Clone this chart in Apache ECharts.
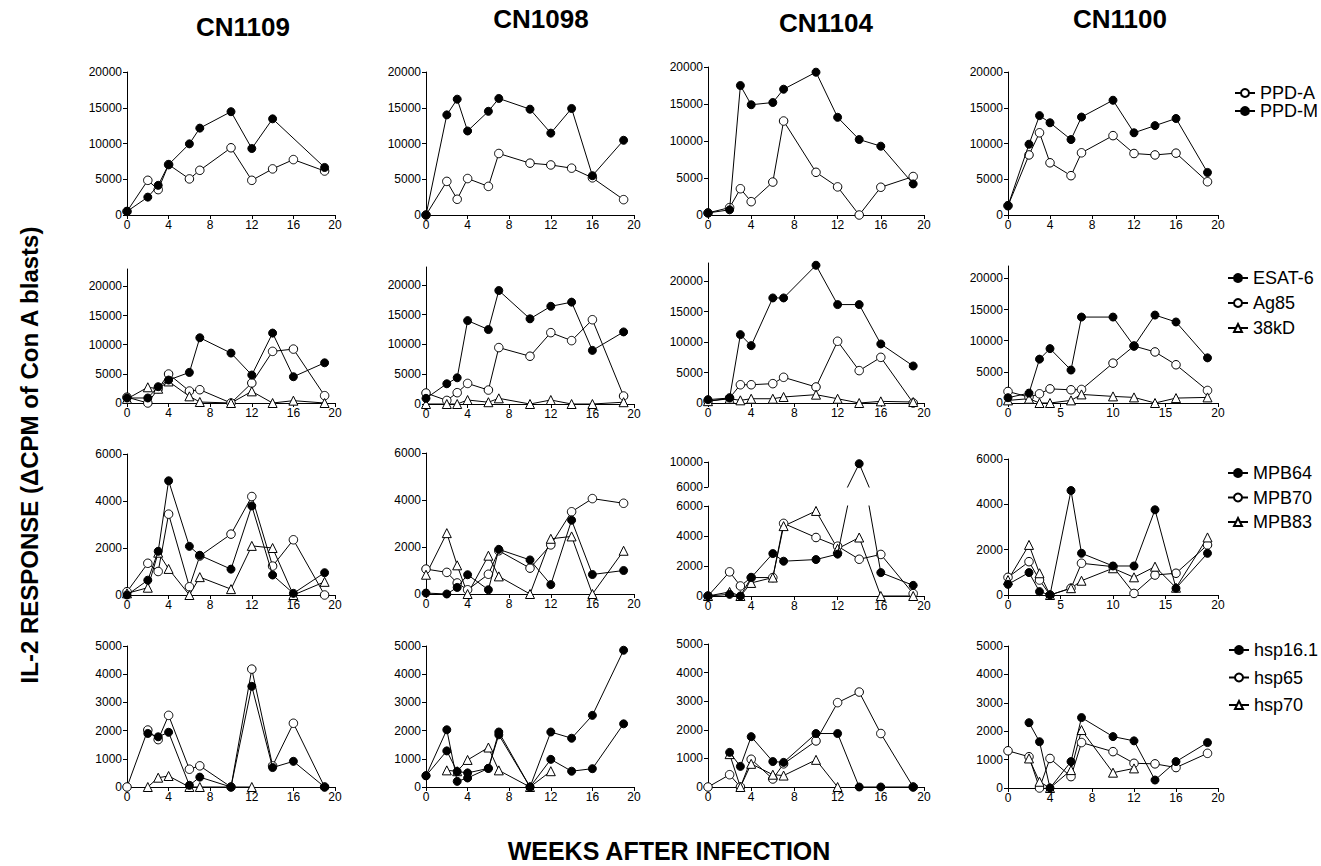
<!DOCTYPE html>
<html>
<head>
<meta charset="utf-8">
<script src="https://cdn.jsdelivr.net/npm/echarts@6/dist/echarts.min.js"></script>
<style>
html,body{margin:0;padding:0;background:#fff;}
#c{width:1321px;height:866px;}
</style>
</head>
<body>
<div id="c"></div>
<script>
// ---------- DATA ----------
const WEEKS = [0, 2, 3, 4, 6, 7, 10, 12, 14, 16, 19];
const PATIENTS = ['CN1109', 'CN1098', 'CN1104', 'CN1100'];
const ANTIGENS = [
  ['PPD-A', 'PPD-M'],
  ['ESAT-6', 'Ag85', '38kD'],
  ['MPB64', 'MPB70', 'MPB83'],
  ['hsp16.1', 'hsp65', 'hsp70']
];
const X_TICKS_4 = [0, 4, 8, 12, 16, 20];
const X_TICKS_5 = [0, 5, 10, 15, 20];
const Y_TICKS_ROW1 = [0, 5000, 10000, 15000, 20000];
const Y_TICKS_ROW2 = [0, 5000, 10000, 15000, 20000];
const Y_TICKS_ROW3 = [0, 2000, 4000, 6000];
const Y_TICKS_ROW3_UPPER = [6000, 10000];
const Y_TICKS_ROW4 = [0, 1000, 2000, 3000, 4000, 5000];

// PPD
const ppdA_1109 = [500, 4850, 3550, 7050, 5050, 6250, 9400, 4850, 6450, 7750, 6150];
const ppdM_1109 = [500, 2500, 4150, 7050, 9950, 12150, 14450, 9300, 13450, null, 6650];
const ppdA_1098 = [0, 4700, 2200, 5100, 4000, 8600, 7250, 7000, 6550, 5200, 2150];
const ppdM_1098 = [0, 14000, 16200, 11750, 14500, 16300, 14800, 11450, 14900, 5500, 10450];
const ppdA_1104 = [280, 1000, 3550, 1800, 4450, 12700, 5770, 3800, 0, 3750, 5200];
const ppdM_1104 = [280, 700, 17500, 14900, 15200, 17000, 19300, 13200, 10200, 9300, 4200];
const ppdA_1100 = [1300, 8400, 11500, 7300, 5500, 8700, 11100, 8600, 8400, 8650, 4650];
const ppdM_1100 = [1300, 9900, 13900, 12900, 10550, 13700, 16050, 11500, 12500, 13500, 5950];
// ESAT-6 / Ag85 / 38kD
const esat_1109 = [860, 860, 2800, 3940, 5250, 11200, 8570, 4800, 12000, 4510, 6900];
const ag85_1109 = [1000, 0, 2450, 4970, 2050, 2280, 0, 3430, 8860, 9250, 1260];
const kd38_1109 = [700, 2700, 2450, 3700, 1140, 170, 0, 2000, 0, 400, 0];
const esat_1098 = [950, 3400, 4400, 14000, 12500, 19050, 14300, 16400, 17100, 9000, 12100];
const ag85_1098 = [1840, 600, 1900, 3450, 2340, 9470, 8020, 11980, 10640, 14150, 1340];
const kd38_1098 = [0, 0, 0, 670, 300, 950, 0, 670, 0, 0, 300];
const esat_1104 = [550, 820, 11230, 9420, 17260, 17260, 22630, 16170, 16170, 9700, 6080];
const ag85_1104 = [270, 820, 3000, 3000, 3180, 4220, 2630, 10140, 5320, 7500, 0];
const kd38_1104 = [300, 700, 440, 700, 700, 990, 1370, 700, 0, 270, 160];
const esat_1100 = [850, 1590, 7040, 8730, 5290, 13800, 13800, 9150, 14120, 13010, 7250];
const ag85_1100 = [1850, 950, 1480, 2270, 2120, 2170, 6400, 9150, 8200, 6140, 2010];
const kd38_1100 = [420, 690, 0, 0, 420, 1380, 1060, 900, 0, 790, 900];
// MPB64 / MPB70 / MPB83
const mpb64_1109 = [0, 630, 1860, 4860, 2070, 1690, 1100, 3790, 850, 70, 950];
const mpb70_1109 = [140, 1350, 1000, 3440, 350, 1660, 2590, 4190, 1230, 2350, 0];
const mpb83_1109 = [70, 310, 1800, 1110, 0, 760, 250, 2090, 2000, 0, 560];
const mpb64_1098 = [40, 0, 280, 820, 180, 1900, 1450, 400, 3140, 830, 1000];
const mpb70_1098 = [1060, 920, 470, 180, 840, 1840, 1100, 2090, 3500, 4060, 3860];
const mpb83_1098 = [820, 2590, 1220, 0, 1630, 750, 0, 2350, 2450, 0, 1840];
const mpb64_1104 = [0, 110, 0, 1230, 2830, 2320, 2430, 2790, 9730, 1560, 710];
const mpb70_1104 = [0, 1610, 670, 1230, 1230, 4840, 3900, 3320, 2450, 2770, 160];
const mpb83_1104 = [0, 270, 0, 870, 1230, 4660, 5670, 3150, 3900, 0, 0];
const mpb64_1100 = [470, 990, 150, 0, 4610, 1840, 1280, 1280, 3760, 300, 1840];
const mpb70_1100 = [780, 1470, 660, 0, 300, 1400, 1250, 70, 880, 960, 2210];
const mpb83_1100 = [660, 2210, 960, 0, 300, 630, 1180, 780, 1250, 320, 2540];
// hsp16.1 / hsp65 / hsp70
const hsp16_1109 = [null, 1900, 1780, 1940, 60, 350, 0, 3570, 690, 910, 0];
const hsp65_1109 = [0, 2020, 1680, 2540, 630, 750, 0, 4180, 750, 2260, 0];
const hsp70_1109 = [null, 0, 330, 390, 0, 0, null, 0, null, null, null];
const hsp16_1098 = [400, 2030, 200, 320, 660, 1950, 0, 1950, 1730, 2540, 4850];
const hsp65_1098 = [400, 1280, 550, 500, 660, 1850, 0, 980, 560, 650, 2240];
const hsp70_1098 = [null, 590, 560, 960, 1400, 590, 0, 560, null, null, null];
const hsp16_1104 = [null, 1210, 720, 1760, 890, 860, 1870, 1870, 0, 0, 0];
const hsp65_1104 = [0, 430, 0, 970, 280, 810, 1610, 2950, 3320, 1870, 0];
const hsp70_1104 = [null, 1150, 0, 810, 430, 400, 950, 0, null, null, null];
const hsp16_1100 = [null, 2300, 1630, 0, 930, 2480, 1810, 1660, 280, 930, 1600];
const hsp65_1100 = [1310, 1100, 0, 1040, 400, 1600, 1280, 870, 850, 720, 1220];
const hsp70_1100 = [null, 1040, 220, 0, 630, 2040, 540, 690, null, null, null];

const VALUES = [
  [[ppdA_1109, ppdM_1109], [ppdA_1098, ppdM_1098], [ppdA_1104, ppdM_1104], [ppdA_1100, ppdM_1100]],
  [[esat_1109, ag85_1109, kd38_1109], [esat_1098, ag85_1098, kd38_1098], [esat_1104, ag85_1104, kd38_1104], [esat_1100, ag85_1100, kd38_1100]],
  [[mpb64_1109, mpb70_1109, mpb83_1109], [mpb64_1098, mpb70_1098, mpb83_1098], [mpb64_1104, mpb70_1104, mpb83_1104], [mpb64_1100, mpb70_1100, mpb83_1100]],
  [[hsp16_1109, hsp65_1109, hsp70_1109], [hsp16_1098, hsp65_1098, hsp70_1098], [hsp16_1104, hsp65_1104, hsp70_1104], [hsp16_1100, hsp65_1100, hsp70_1100]]
];

// ---------- LAYOUT / STYLE ----------
const FONT = "'Liberation Sans', Arial, Helvetica, sans-serif";
const COL_X0 = [127, 426, 708, 1008];
const COL_X1 = [335, 634, 924, 1218];
const ROW_TOP = [[72, 72, 67, 72], [269, 267, 263, 266], [454, 453, 506, 459], [646, 646, 644, 646]];
const ROW_BOTTOM = [[215, 215, 215, 215], [403, 404, 403, 403], [595, 594, 596, 595], [787, 787, 787, 788]];
const UPPER_BREAK = { top: 462, bottom: 487 }; // CN1104 MPB panel, upper segment
const Y_MAX = [[20000, 20000, 20000, 20000], [23000, 23000, 23000, 22000], [6000, 6000, 6000, 6000], [5000, 5000, 5000, 5000]];
const Y_TICKS = [Y_TICKS_ROW1, Y_TICKS_ROW2, Y_TICKS_ROW3, Y_TICKS_ROW4];
const MARK = {
  'PPD-A': 'open', 'PPD-M': 'filled', 'ESAT-6': 'filled', 'Ag85': 'open', '38kD': 'tri',
  'MPB64': 'filled', 'MPB70': 'open', 'MPB83': 'tri', 'hsp16.1': 'filled', 'hsp65': 'open', 'hsp70': 'tri'
};

function pairs(vals) {
  return WEEKS.map((w, i) => [w, vals[i]]).filter(p => p[1] !== null);
}
function markStyle(kind) {
  if (kind === 'filled') return { symbol: 'circle', symbolSize: 8, itemStyle: { color: '#000', borderColor: '#000', borderWidth: 1 } };
  if (kind === 'open') return { symbol: 'circle', symbolSize: 8.5, itemStyle: { color: '#fff', borderColor: '#000', borderWidth: 1 } };
  return { symbol: 'triangle', symbolSize: 9, itemStyle: { color: '#fff', borderColor: '#000', borderWidth: 1 } };
}
const plain = v => String(v);

const grids = [], xAxes = [], yAxes = [], series = [];

function addGrid(left, right, top, bottom, xTicks, xShow, yMin, yMax, yTicks) {
  const gi = grids.length;
  grids.push({ left: left, top: top, width: right - left, height: bottom - top, containLabel: false });
  xAxes.push({
    type: 'value', gridIndex: gi, min: 0, max: 20, interval: xTicks[1] - xTicks[0], show: xShow,
    splitLine: { show: false },
    axisLine: { show: true, lineStyle: { color: '#000', width: 1 } },
    axisLabel: { color: '#000', fontFamily: FONT, fontSize: 12, margin: 4, customValues: xTicks, formatter: plain },
    axisTick: { show: true, length: 4, lineStyle: { color: '#000' }, customValues: xTicks }
  });
  yAxes.push({
    type: 'value', gridIndex: gi, min: yMin, max: yMax, interval: yTicks[1] - yTicks[0],
    splitLine: { show: false },
    axisLine: { show: true, lineStyle: { color: '#000', width: 1 } },
    axisLabel: { color: '#000', fontFamily: FONT, fontSize: 12, margin: 5, customValues: yTicks, formatter: plain },
    axisTick: { show: true, length: 4, lineStyle: { color: '#000' }, customValues: yTicks }
  });
  return gi;
}

for (let r = 0; r < 4; r++) {
  for (let c = 0; c < 4; c++) {
    const xTicks = ((r === 1 || r === 2) && c === 3) ? X_TICKS_5 : X_TICKS_4;
    const gi = addGrid(COL_X0[c], COL_X1[c], ROW_TOP[r][c], ROW_BOTTOM[r][c], xTicks, true, 0, Y_MAX[r][c], Y_TICKS[r]);
    const isBreak = (r === 2 && c === 2);
    let ui = -1;
    if (isBreak) {
      ui = addGrid(COL_X0[c], COL_X1[c], UPPER_BREAK.top, UPPER_BREAK.bottom, xTicks, false, 6000, 10000, Y_TICKS_ROW3_UPPER);
    }
    ANTIGENS[r].forEach((name, k) => {
      let kind = MARK[name];
      if (r === 3 && c === 1 && name === 'hsp65') kind = 'filled'; // drawn with filled dots in CN1098
      const st = markStyle(kind);
      const base = Object.assign({
        type: 'line', name: name, xAxisIndex: gi, yAxisIndex: gi,
        data: pairs(VALUES[r][c][k]), connectNulls: true, clip: isBreak,
        showAllSymbol: true, animation: false, silent: true,
        lineStyle: { color: '#000', width: 1 }, z: kind === 'filled' ? 3 : 2
      }, st);
      series.push(base);
      if (isBreak && name === 'MPB64') {
        series.push(Object.assign({}, base, { xAxisIndex: ui, yAxisIndex: ui, clip: true }));
      }
    });
  }
}

const LEGEND_POS = [
  { left: 1234, top: 84, gap: 0 },
  { left: 1227, top: 269, gap: 7 },
  { left: 1227, top: 464, gap: 6.5 },
  { left: 1228, top: 641, gap: 9.5 }
];
const legends = ANTIGENS.map((names, r) => ({
  data: names, orient: 'vertical', align: 'left', left: LEGEND_POS[r].left, top: LEGEND_POS[r].top,
  padding: 0, itemWidth: 20, itemHeight: 10, itemGap: LEGEND_POS[r].gap, selectedMode: false,
  textStyle: { color: '#000', fontFamily: FONT, fontSize: 18, lineHeight: 18 }
}));

const TITLE_POS = [[243, 27], [541, 19], [826, 23], [1120, 19]];
const graphics = PATIENTS.map((p, i) => ({
  type: 'text', x: TITLE_POS[i][0], y: TITLE_POS[i][1], silent: true,
  style: { text: p, font: 'bold 26px ' + FONT, fill: '#000', textAlign: 'center', textVerticalAlign: 'middle', verticalAlign: 'middle' }
}));
graphics.push({
  type: 'text', x: 29, y: 455, rotation: Math.PI / 2, silent: true,
  style: { text: 'IL-2 RESPONSE (\u0394CPM of Con A blasts)', font: 'bold 24px ' + FONT, fill: '#000', textAlign: 'center', textVerticalAlign: 'middle', verticalAlign: 'middle' }
});
graphics.push({
  type: 'text', x: 669, y: 851, silent: true,
  style: { text: 'WEEKS AFTER INFECTION', font: 'bold 25px ' + FONT, fill: '#000', textAlign: 'center', textVerticalAlign: 'middle', verticalAlign: 'middle' }
});

const chart = echarts.init(document.getElementById('c'), null, { renderer: 'svg', width: 1321, height: 866 });
chart.setOption({
  backgroundColor: '#fff',
  animation: false,
  grid: grids,
  xAxis: xAxes,
  yAxis: yAxes,
  legend: legends,
  series: series,
  graphic: graphics
});
</script>
</body>
</html>
